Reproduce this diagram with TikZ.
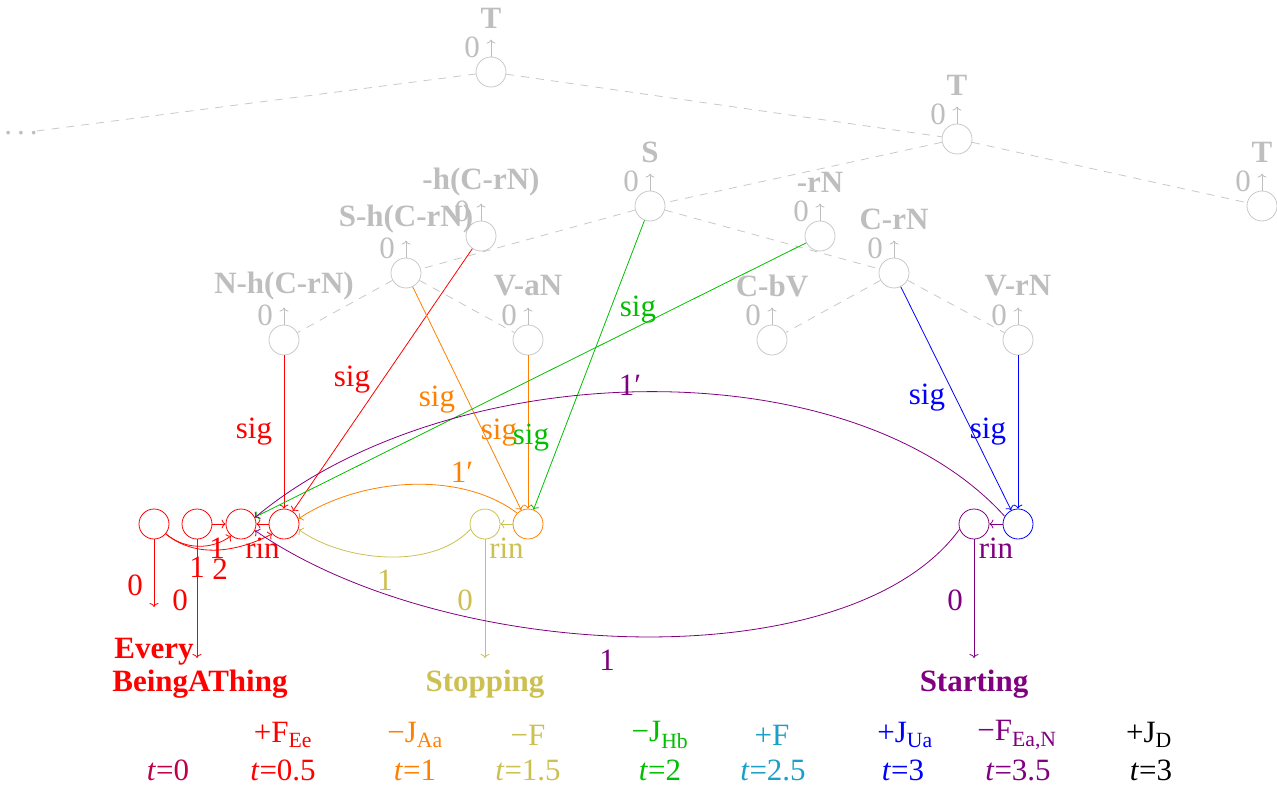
\documentclass[tikz,border=0pt]{standalone}
\usepackage{fontspec}
\setmainfont{Liberation Serif}
\usetikzlibrary{arrows.meta}
\definecolor{tgray}{RGB}{190,190,190}
\definecolor{lgray}{RGB}{200,200,200}
\definecolor{cred}{RGB}{255,0,0}
\definecolor{corange}{RGB}{255,128,0}
\definecolor{colive}{RGB}{204,192,80}
\definecolor{cgreen}{RGB}{0,190,0}
\definecolor{cpurple}{RGB}{128,0,128}
\definecolor{cblue}{RGB}{0,0,255}
\definecolor{ccyan}{RGB}{26,160,200}
\definecolor{ccrimson}{RGB}{190,0,70}
\newcommand\tsub[1]{\textsubscript{#1}}
\begin{document}
\begin{tikzpicture}[x=1bp,y=-1bp,
  font=\fontsize{31bp}{36bp}\selectfont,
  every node/.style={inner sep=0pt},
  cn/.style={circle, draw, minimum size=30bp, inner sep=0pt, line width=0.8bp},
  tn/.style={cn, draw=lgray},
  tedge/.style={draw=lgray, dash pattern=on 8bp off 7bp, line width=0.8bp},
  e/.style={-{To[length=4bp,width=9bp]}, line width=0.8bp},
  ttl/.style={font=\fontsize{31bp}{36bp}\selectfont\bfseries},
  rinlbl/.style={midway, anchor=base, yshift=-34bp}
]
\useasboundingbox (0,0) rectangle (1277,786);

% ---------- tree (gray) ----------
\foreach \n/\x/\y/\t in {T1/491/72/T, T2/957/139/T, T3/1262/206/T, S/650/206/S,
  hC/481/236/-h(C-rN), Sh/406/273/S-h(C-rN), Nh/284/340/N-h(C-rN), VaN/528/340/V-aN,
  rN/820/236/-rN, CrN/894/273/C-rN, CbV/772/340/C-bV, VrN/1018/340/V-rN}{
  \node[tn] (\n) at (\x,\y) {};
  \node[ttl, text=tgray] (\n-name) at (\x,\y-54) {\t};
  \node[text=tgray] (\n-zero) at (\x-19,\y-25) {0};
  \draw[e, tgray] (\n.north) -- ++(0,-17);
}
\node[text=tgray, inner xsep=18bp] (dots) at (21,133) {.\kern5bp.\kern5bp.};

\draw[tedge] (dots) -- (T1);
\draw[tedge] (T1) -- (T2);
\draw[tedge] (T2) -- (T3);
\draw[tedge] (T2) -- (S);
\draw[tedge] (S) -- (Sh);
\draw[tedge] (S) -- (CrN);
\draw[tedge] (Sh) -- (Nh);
\draw[tedge] (Sh) -- (VaN);
\draw[tedge] (CrN) -- (CbV);
\draw[tedge] (CrN) -- (VrN);

% ---------- lower nodes ----------
\node[cn, draw=cred] (R1) at (154,524) {};
\node[cn, draw=cred] (R2) at (197,524) {};
\node[cn, draw=cred] (R3) at (241,524) {};
\node[cn, draw=cred] (R4) at (284,524) {};
\node[cn, draw=colive] (Y) at (485,524) {};
\node[cn, draw=corange] (O) at (528,524) {};
\node[cn, draw=cpurple] (P) at (974,524) {};
\node[cn, draw=cblue] (B) at (1018,524) {};

\node[ttl, text=cred] (every) at (154,652) {Every};
\node[ttl, text=cred] (being) at (200,684) {BeingAThing};
\node[ttl, text=colive] (stop) at (485,684) {Stopping};
\node[ttl, text=cpurple] (start) at (974,684) {Starting};

\coordinate (e1) at (154,607);
\coordinate (e2) at (197,658);
\coordinate (e3) at (485,658);
\coordinate (e4) at (974,658);

% ---------- sig edges ----------
\draw[e, cred] (Nh) -- (R4) node[text=cred] (s1) at (254,432) {sig};
\draw[e, cred] (hC) -- (R4) node[text=cred] (s2) at (352,380) {sig};
\draw[e, corange] (Sh) -- (O) node[text=corange] (s3) at (437,400) {sig};
\draw[e, corange] (VaN) -- (O) node[text=corange] (s4) at (499,433) {sig};
\draw[e, cgreen] (S) -- (O) node[text=cgreen] (s5) at (531,438) {sig};
\draw[e, cgreen] (rN) -- (R3) node[text=cgreen] (s6) at (638,310) {sig};
\draw[e, cblue] (CrN) -- (B) node[text=cblue] (s7) at (927,398) {sig};
\draw[e, cblue] (VrN) -- (B) node[text=cblue] (s8) at (988,432) {sig};

% ---------- lower edges ----------
\draw[e, cred] (R1) -- (e1) node[text=cred] (z1) at (135,585) {0};
\draw[e, cred] (R2) -- (e2) node[text=cred] (z2) at (180,600) {0};
\draw[e, colive] (Y) -- (e3) node[text=colive] (z3) at (465,600) {0};
\draw[e, cpurple] (P) -- (e4) node[text=cpurple] (z4) at (955,600) {0};

\draw[e, cred] (R2) -- (R3) node[text=cred] (n1a) at (217,548) {1};
\draw[e, cred] (R1.-40) .. controls (185,550) and (212,550) .. (R3.-130)
  node[text=cred] (n1b) at (197,567) {1};
\draw[e, cred] (R1.-40) .. controls (200,562) and (245,548) .. (R4.-140)
  node[text=cred] (n2) at (220,569) {2};
\draw[e, cred] (R4) -- (R3) node[rinlbl, text=cred] (rin1) {rin};
\draw[e, colive] (O) -- (Y) node[rinlbl, text=colive] (rin2) {rin};
\draw[e, cpurple] (B) -- (P) node[rinlbl, text=cpurple] (rin3) {rin};

\draw[e, corange] (O.135) .. controls (460,470) and (360,478) .. (R4.20)
  node[text=corange] (o1) at (462,472) {1′};
\draw[e, colive] (Y.200) .. controls (430,572) and (340,560) .. (R4.-20)
  node[text=colive] (y1) at (385,580) {1};
\draw[e, cpurple] (B.150) .. controls (850,345) and (450,355) .. (R3.25)
  node[text=cpurple] (p1) at (630,385) {1′};
\draw[e, cpurple] (P.200) .. controls (850,680) and (450,665) .. (R3.-25)
  node[text=cpurple] (p2) at (607,660) {1};

% ---------- time line ----------
\node[text=ccrimson] (t0) at (168,770) {\textit{t}=0};
\node[text=cred] (a05) at (283,735) {+F\tsub{Ee}};
\node[text=cred] (t05) at (283,770) {\textit{t}=0.5};
\node[text=corange] (a1) at (415,735) {−J\tsub{Aa}};
\node[text=corange] (t1) at (415,770) {\textit{t}=1};
\node[text=colive] (a15) at (528,735) {−F};
\node[text=colive] (t15) at (528,770) {\textit{t}=1.5};
\node[text=cgreen] (a2) at (660,735) {−J\tsub{Hb}};
\node[text=cgreen] (t2) at (660,770) {\textit{t}=2};
\node[text=ccyan] (a25) at (772,735) {+F};
\node[text=ccyan] (t25) at (773,770) {\textit{t}=2.5};
\node[text=cblue] (a3) at (905,735) {+J\tsub{Ua}};
\node[text=cblue] (t3) at (903,770) {\textit{t}=3};
\node[text=cpurple] (a35) at (1017,735) {−F\tsub{Ea,N}};
\node[text=cpurple] (t35) at (1018,770) {\textit{t}=3.5};
\node[text=black] (aD) at (1149,735) {+J\tsub{D}};
\node[text=black] (tD) at (1151,770) {\textit{t}=3};
\end{tikzpicture}
\end{document}
